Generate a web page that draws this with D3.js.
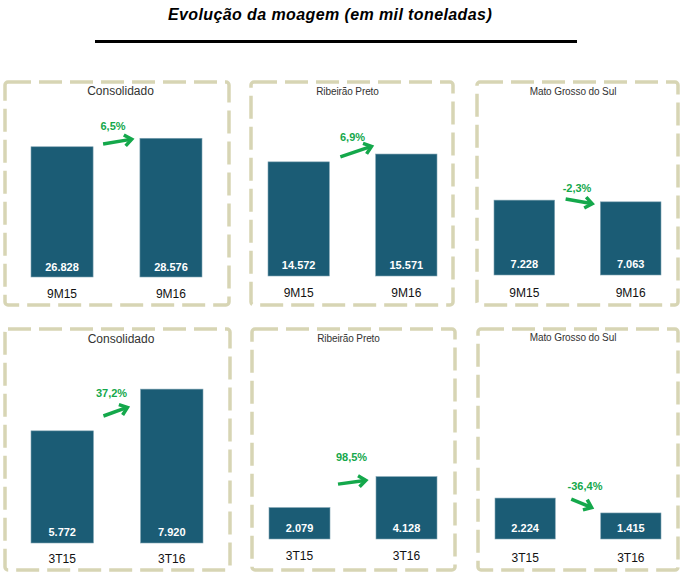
<!DOCTYPE html>
<html><head><meta charset="utf-8">
<script src="https://cdn.jsdelivr.net/npm/d3@7"></script>
<style>
html,body{margin:0;padding:0;background:#fff;}
svg{display:block;font-family:"Liberation Sans",Arial,sans-serif;}
</style></head>
<body>
<svg id="chart" width="684" height="579"></svg>
<script>
// ---- data ----
const chartTitle = "Evolução da moagem (em mil toneladas)";
const regions = ["Consolidado", "Ribeirão Preto", "Mato Grosso do Sul"];
const periods9M = ["9M15", "9M16"];
const periods3T = ["3T15", "3T16"];
const values9M = [[26828, 28576], [14572, 15571], [7228, 7063]];
const values3T = [[5772, 7920], [2079, 4128], [2224, 1415]];
const change9M = ["6,5%", "6,9%", "-2,3%"];
const change3T = ["37,2%", "98,5%", "-36,4%"];

// ---- layout (positions only) ----
const layout = [
  {box:[5,82,229,305], bars:[31,202], base:277, dmax:30900, tx:120.5, ty:91, ts:12, valY:267, catY:293, ar:{sx:10,ex:-7,dy:-1,rise:-5,lx:-5,ly:-15.5}},
  {box:[251,82,453,305], bars:[268,437], base:276, dmax:19150, tx:347.5, ty:91, ts:10, valY:265, catY:292, ar:{sx:11,ex:-3,dy:-6.5,rise:-11,lx:-4,ly:-14.5}},
  {box:[477,82,678,305], bars:[494,661], base:275, dmax:14480, tx:573, ty:91, ts:10, valY:264, catY:292, ar:{sx:11,ex:-7,dy:0.5,rise:5,lx:-2.5,ly:-13.5}},
  {box:[5,329,230,570], bars:[31,203], base:543, dmax:7720, tx:121, ty:339, ts:12, valY:532, catY:558, ar:{sx:10,ex:-12,dy:1.5,rise:-9,lx:-4.5,ly:-18.5}},
  {box:[252,329,455,570], bars:[269,437], base:539, dmax:9930, tx:348.5, ty:338, ts:10, valY:528, catY:555, ar:{sx:8,ex:-9,dy:-10,rise:-4,lx:-1,ly:-25}},
  {box:[478,329,678,570], bars:[495,661], base:539, dmax:8150, tx:573, ty:337, ts:10, valY:528, catY:557, ar:{sx:16,ex:-8,dy:-2,rise:9,lx:3,ly:-17.5}}
];

const barColor = "#1b5c75";
const green = "#14a84b";
const borderColor = "#d7d5b4";

const ptBR = d3.formatLocale({decimal:",", thousands:".", grouping:[3], currency:["R$",""]});
const fmt = ptBR.format(",d");

const svg = d3.select("#chart");

// title
svg.append("text").attr("x", 330).attr("y", 20).attr("text-anchor","middle")
  .attr("font-size", 16).attr("font-weight","bold").attr("font-style","italic")
  .attr("letter-spacing", "0.4").attr("fill","#000").text(chartTitle);
svg.append("line").attr("x1",95).attr("x2",577).attr("y1",41.5).attr("y2",41.5)
  .attr("stroke","#000").attr("stroke-width",3);

const panels = [];
regions.forEach((r,i)=>panels.push({region:r, cats:periods9M, vals:values9M[i], change:change9M[i]}));
regions.forEach((r,i)=>panels.push({region:r, cats:periods3T, vals:values3T[i], change:change3T[i]}));

panels.forEach((p, i) => {
  const L = layout[i];
  const g = svg.append("g");
  const [bx0, by0, bx1, by1] = L.box;
  g.append("rect").attr("x", bx0).attr("y", by0).attr("width", bx1-bx0).attr("height", by1-by0)
    .attr("rx", 3).attr("fill","none").attr("stroke", borderColor).attr("stroke-width", 3.5)
    .attr("stroke-dasharray","23 8");

  g.append("text").attr("x", L.tx).attr("y", L.ty + L.ts*0.36).attr("text-anchor","middle")
    .attr("font-size", L.ts).attr("fill","#333")
    .attr("letter-spacing", L.ts === 10 ? "-0.1" : "0").text(p.region);

  const x = d3.scaleBand().domain(p.cats).range(L.bars).paddingInner(0.43).paddingOuter(0);
  const y = d3.scaleLinear().domain([0, L.dmax]).range([L.base, L.base - 150]);

  const data = p.cats.map((c,k)=>({c, v:p.vals[k]}));

  g.selectAll("rect.bar").data(data).enter().append("rect").attr("class","bar")
    .attr("x", d=>x(d.c)).attr("width", x.bandwidth())
    .attr("y", d=>y(d.v)).attr("height", d=>y(0)-y(d.v))
    .attr("fill", barColor).attr("stroke","#7fa3b2").attr("stroke-width",0.6);

  g.selectAll("text.val").data(data).enter().append("text").attr("class","val")
    .attr("x", d=>x(d.c)+x.bandwidth()/2).attr("y", L.valY + 4)
    .attr("text-anchor","middle").attr("font-size",11).attr("font-weight","bold")
    .attr("fill","#fff").text(d=>fmt(d.v));

  g.selectAll("text.cat").data(data).enter().append("text").attr("class","cat")
    .attr("x", d=>x(d.c)+x.bandwidth()/2).attr("y", L.catY + 4.5)
    .attr("text-anchor","middle").attr("font-size",12).attr("fill","#111").text(d=>d.c);

  // arrow
  const A = L.ar;
  const x0 = x(p.cats[0]) + x.bandwidth() + A.sx;
  const x1 = x(p.cats[1]) + A.ex;
  const ym = (y(p.vals[0]) + y(p.vals[1]))/2 + A.dy;
  const y0 = ym - A.rise/2, y1 = ym + A.rise/2;
  const len = Math.hypot(x1-x0, y1-y0);
  const ux = (x1-x0)/len, uy = (y1-y0)/len;
  const hl = 9, ang = 38*Math.PI/180;
  const rot = (a)=>[ux*Math.cos(a)-uy*Math.sin(a), ux*Math.sin(a)+uy*Math.cos(a)];
  const w1 = rot(ang), w2 = rot(-ang);
  const tx = x1 - ux*1.2, ty = y1 - uy*1.2;
  g.append("line").attr("x1",x0).attr("y1",y0).attr("x2",tx - ux*1).attr("y2",ty - uy*1)
    .attr("stroke",green).attr("stroke-width",3.5);
  g.append("path")
    .attr("d", `M${tx - w1[0]*hl},${ty - w1[1]*hl}L${tx},${ty}L${tx - w2[0]*hl},${ty - w2[1]*hl}`)
    .attr("fill","none").attr("stroke",green).attr("stroke-width",3.5)
    .attr("stroke-linejoin","miter").attr("stroke-linecap","butt");

  g.append("text").attr("x", (x0+x1)/2 + A.lx).attr("y", ym + A.ly + 4)
    .attr("text-anchor","middle").attr("font-size",11).attr("font-weight","bold")
    .attr("fill",green).text(p.change);
});
</script>
</body></html>
